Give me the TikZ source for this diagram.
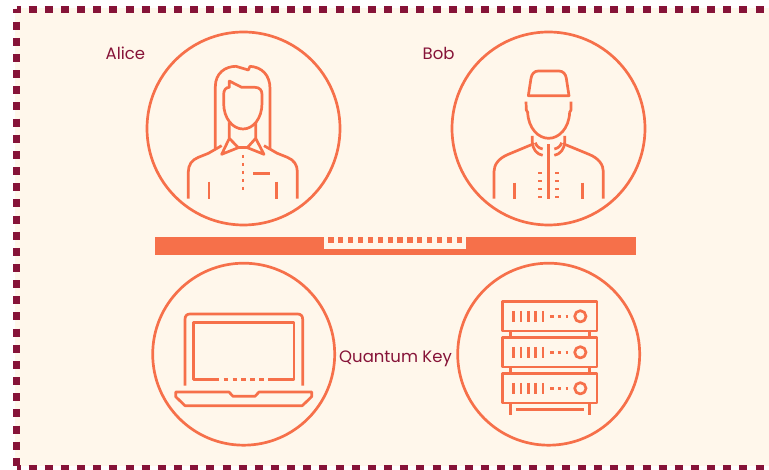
\documentclass[tikz,border=0pt]{standalone}
\usepackage{fontspec}
\setmainfont{Poppins}
\definecolor{bgc}{HTML}{FFF7EB}
\definecolor{org}{HTML}{F6704A}
\definecolor{dark}{HTML}{861338}
\tikzset{
  ring/.style={circle,draw=org,line width=2.7pt,minimum size=#1,inner sep=0pt,outer sep=0pt},
  ico/.style={draw=org,line width=2.7pt,line join=round},
  lab/.style={text=dark,font=\fontsize{16.5}{18}\selectfont,inner sep=0pt,anchor=base west},
  edge/.style={draw=dark,line width=7pt,dash pattern=on 8pt off 8.155pt}
}
\begin{document}
\begin{tikzpicture}[x=1pt,y=-1pt]
\useasboundingbox (0,0) rectangle (769,470);
\clip (0,0) rectangle (769,470);
\fill[bgc] (15,8) rectangle (769,466);
% dashed frame
\draw[edge,dash phase=4pt] (16.5,9.5) -- (790,9.5);
\draw[edge,dash phase=4pt] (16.5,9.5) -- (16.5,468);
\draw[edge,dash phase=4pt] (16.5,468) -- (790,468);
% rings
\node[ring=193pt] (alice) at (243.5,128.5) {};
\node[ring=193pt] (bob) at (548.5,128.5) {};
\node[ring=182pt] (laptop) at (243.7,354.2) {};
\node[ring=182pt] (server) at (548.7,354.2) {};
% labels
\node[lab] (la) at (105.5,60) {Alice};
\node[lab] (lb) at (422.5,60) {Bob};
\node[lab] (lq) at (339,363) {Quantum Key};
% bar
\fill[org] (154.5,237.3) rectangle (636,254.7);
\fill[bgc] (324,237.3) rectangle (466,249);
\draw[org,line width=5.2pt,dash pattern=on 5.2pt off 4.67pt] (328.4,240) -- (462,240);
% Alice
\begin{scope}[shift={(140,25)},scale=1/3]
\draw[ico] (226,372) -- (226,185) .. controls (226,145) and (255,124) .. (288,124) -- (325,135) -- (330,124) .. controls (365,126) and (390,150) .. (390,190) -- (390,375);
\draw[ico] (268,168) -- (305,187) -- (345,187) .. controls (358,187) and (366,195) .. (366,208) -- (366,235) .. controls (366,280) and (340,312) .. (309,312) .. controls (278,312) and (251,280) .. (251,235) -- (251,208) .. controls (251,195) and (258,187) .. (268,187) -- cycle;
\draw[ico] (268,292) -- (268,340) -- (245,388) -- (295,368) -- (268,340);
\draw[ico] (347,292) -- (347,340) -- (372,388) -- (322,368) -- (347,340);
\draw[ico] (295,368) -- (322,368);
\draw[ico] (245,362) -- (205,385) -- (175,397) .. controls (155,405) and (145,420) .. (145,440) -- (145,521);
\draw[ico] (372,362) -- (412,385) -- (442,397) .. controls (462,405) and (472,420) .. (472,440) -- (472,521);
\draw[ico] (207,470) -- (207,521);
\draw[ico] (409,470) -- (409,521);
\draw[ico] (340,445) -- (390,445);
\draw[ico,dash pattern=on 3.5pt off 4.5pt] (309,390) -- (309,503);
\end{scope}
% Bob
\begin{scope}[shift={(445,25)},scale=1/3]
\draw[ico] (250,212) -- (258,160) .. controls (260,147) and (268,138) .. (280,138) -- (342,138) .. controls (354,138) and (362,147) .. (364,160) -- (372,212) -- cycle;
\draw[ico] (243,230) -- (244,255) -- (248,262) .. controls (250,310) and (280,340) .. (311,340) .. controls (342,340) and (372,310) .. (374,262) -- (378,255) -- (378,230);
\draw[ico] (262,333) -- (262,352) .. controls (263,372) and (275,388) .. (293,391);
\draw[ico] (359,333) -- (359,352) .. controls (358,372) and (346,388) .. (328,391);
\draw[ico] (271,353) .. controls (274,363) and (282,370) .. (293,372);
\draw[ico] (350,353) .. controls (347,363) and (339,370) .. (328,372);
\draw[ico] (311,358) -- (311,521);
\draw[ico] (262,358) -- (190,388) .. controls (160,400) and (147,420) .. (147,440) -- (147,521);
\draw[ico] (359,358) -- (432,388) .. controls (462,400) and (475,420) .. (475,440) -- (475,521);
\draw[ico] (208,473) -- (208,521);
\draw[ico] (413,473) -- (413,521);
\foreach \yy in {443,467,491,515}{
  \draw[ico,line width=2.2pt] (280,\yy) -- (292,\yy);
  \draw[ico,line width=2.2pt] (330,\yy) -- (342,\yy);
}
\end{scope}
% Laptop
\begin{scope}[shift={(145,230)},scale=1/3]
\draw[ico] (120,467) -- (120,268) .. controls (120,258) and (125,252) .. (135,252) -- (458,252) .. controls (468,252) and (473,258) .. (473,268) -- (473,467);
\draw[ico] (222,449) -- (145,449) -- (145,278) -- (447,278) -- (447,449) -- (368,449);
\draw[ico,dash pattern=on 4.4pt off 4.5pt] (236,449) -- (358,449);
\draw[ico] (92,486) -- (252,486) -- (264,499) -- (330,499) -- (342,486) -- (500,486) -- (500,500) -- (472,527) -- (120,527) -- (92,500) -- cycle;
\end{scope}
% Server
\begin{scope}[shift={(450,230)},scale=1/3]
\foreach \yy in {259,367,475}{
  \draw[ico] (158,\yy-45) rectangle (441,\yy+44);
  \foreach \xx in {191,213,235,257,279}{\draw[ico] (\xx,\yy-16) -- (\xx,\yy+16);}
  \draw[ico,dash pattern=on 3.6pt off 4.2pt] (300,\yy) -- (354,\yy);
  \draw[ico] (391,\yy) circle (17);
}
\foreach \xx in {181,418}{
  \draw[ico] (\xx,303) -- (\xx,322);
  \draw[ico] (\xx,411) -- (\xx,430);
  \draw[ico] (\xx,519) -- (\xx,555);
}
\draw[ico] (198,539) -- (402,539);
\end{scope}
\end{tikzpicture}
\end{document}
